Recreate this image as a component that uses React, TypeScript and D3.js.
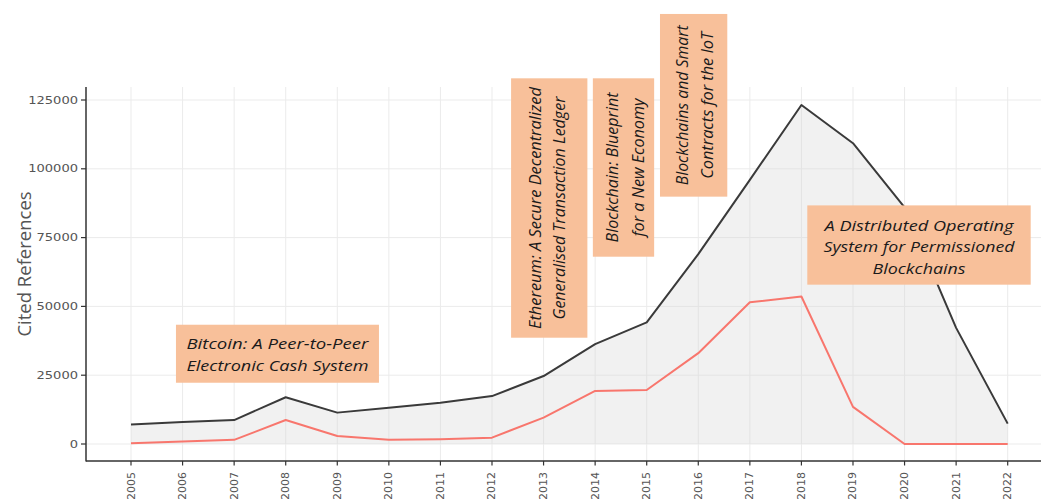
import React, { useEffect } from "react";
import * as d3 from "d3";

const YEARS = [2005, 2006, 2007, 2008, 2009, 2010, 2011, 2012, 2013, 2014, 2015, 2016, 2017, 2018, 2019, 2020, 2021, 2022];
const TOTAL_REFS = [7100, 8000, 8700, 17000, 11400, 13200, 15000, 17400, 24700, 36300, 44200, 69000, 96000, 123200, 109300, 86000, 42200, 7400];
const TOP_REFS = [300, 900, 1500, 8700, 2900, 1500, 1700, 2300, 9600, 19300, 19600, 33000, 51500, 53600, 13500, 0, 0, 0];
const Y_TICKS = [0, 25000, 50000, 75000, 100000, 125000];
const Y_TITLE = "Cited References";

const ANNOT_TEXT = [
  ["Bitcoin: A Peer-to-Peer", "Electronic Cash System"],
  ["Ethereum: A Secure Decentralized", "Generalised Transaction Ledger"],
  ["Blockchain: Blueprint", "for a New Economy"],
  ["Blockchains and Smart", "Contracts for the IoT"],
  ["A Distributed Operating", "System for Permissioned", "Blockchains"],
];
// anchor (centre of each label) in data space
const ANNOT_YEAR = [2007.84, 2013.11, 2014.55, 2015.91, 2020.28];
const ANNOT_VALUE = [32800, 85750, 100470, 123070, 72300];

// layout (pixels)
const ANNOT_LAYOUT = [
  { rot: false, w: 203, h: 58, off: [-10.5, 11.3], len: [182, 182] },
  { rot: true, w: 76.3, h: 259.4, off: [-14, 10], len: [242, 223] },
  { rot: true, w: 61.3, h: 178.4, off: [-11.5, 15], len: [150, 138] },
  { rot: true, w: 67.3, h: 182.7, off: [-12, 13], len: [160, 147] },
  { rot: false, w: 223.4, h: 79.3, off: [-20.5, 0.5, 22.5], len: [189, 191, 93] },
];

const W = 1041;
const H = 499;
const PANEL = { left: 86, right: 1041, top: 87, bottom: 461 };

export default function App() {
  useEffect(() => {
    document.body.style.margin = "0";
  }, []);

  const x = d3.scaleLinear().domain([2005, 2022]).range([131, 1007.7]);
  const y = d3.scaleLinear().domain([0, 125000]).range([444, 100]);

  const area = d3
    .area<number>()
    .x((_, i) => x(YEARS[i]))
    .y0(y(0))
    .y1((d) => y(d));
  const line = d3
    .line<number>()
    .x((_, i) => x(YEARS[i]))
    .y((d) => y(d));

  const tickFont = "'DejaVu Sans', Verdana, sans-serif";
  const annFont = "'Open Sans', sans-serif";

  return (
    <svg width={W} height={H} style={{ display: "block", background: "#fff" }}>
      {/* grid */}
      <g stroke="#ebebeb" strokeWidth={1}>
        {Y_TICKS.map((t) => (
          <line key={"h" + t} x1={PANEL.left} x2={PANEL.right} y1={y(t)} y2={y(t)} />
        ))}
        {YEARS.map((yr) => (
          <line key={"v" + yr} x1={x(yr)} x2={x(yr)} y1={PANEL.top} y2={PANEL.bottom} />
        ))}
      </g>

      {/* area */}
      <path d={area(TOTAL_REFS) || ""} fill="#d6d6d6" fillOpacity={0.35} />
      <path d={line(TOTAL_REFS) || ""} fill="none" stroke="#3a3a3a" strokeWidth={2} strokeLinejoin="round" />
      <path d={line(TOP_REFS) || ""} fill="none" stroke="#F8766D" strokeWidth={2} strokeLinejoin="round" />

      {/* annotations */}
      {ANNOT_TEXT.map((lines, i) => {
        const L = ANNOT_LAYOUT[i];
        const cx = x(ANNOT_YEAR[i]);
        const cy = y(ANNOT_VALUE[i]);
        return (
          <g key={"a" + i}>
            <rect x={cx - L.w / 2} y={cy - L.h / 2} width={L.w} height={L.h} fill="#F8C09A" />
            {lines.map((s, j) =>
              L.rot ? (
                <text
                  key={j}
                  transform={`translate(${cx + L.off[j]},${cy}) rotate(-90)`}
                  textAnchor="middle"
                  dominantBaseline="central"
                  fontFamily={annFont}
                  fontStyle="italic"
                  fontSize={15.5}
                  fill="#1a1a1a"
                  textLength={L.len[j]}
                  lengthAdjust="spacingAndGlyphs"
                >
                  {s}
                </text>
              ) : (
                <text
                  key={j}
                  x={cx}
                  y={cy + L.off[j]}
                  textAnchor="middle"
                  dominantBaseline="central"
                  fontFamily={annFont}
                  fontStyle="italic"
                  fontSize={15}
                  fill="#1a1a1a"
                  textLength={L.len[j]}
                  lengthAdjust="spacingAndGlyphs"
                >
                  {s}
                </text>
              )
            )}
          </g>
        );
      })}

      {/* axes */}
      <line x1={PANEL.left} x2={PANEL.left} y1={PANEL.top} y2={PANEL.bottom + 0.5} stroke="#333" strokeWidth={1.5} />
      <line x1={PANEL.left} x2={PANEL.right} y1={PANEL.bottom} y2={PANEL.bottom} stroke="#333" strokeWidth={1.5} />
      {Y_TICKS.map((t) => (
        <g key={"yt" + t}>
          <line x1={81} x2={PANEL.left} y1={y(t)} y2={y(t)} stroke="#333" strokeWidth={1.2} />
          <text
            x={78}
            y={y(t)}
            textAnchor="end"
            dominantBaseline="central"
            fontFamily={tickFont}
            fontSize={11}
            fill="#555"
            textLength={String(t).length * 8.3}
            lengthAdjust="spacingAndGlyphs"
          >
            {t}
          </text>
        </g>
      ))}
      {YEARS.map((yr) => (
        <g key={"xt" + yr}>
          <line x1={x(yr)} x2={x(yr)} y1={PANEL.bottom} y2={PANEL.bottom + 4.5} stroke="#333" strokeWidth={1.2} />
          <text
            transform={`translate(${x(yr)},${472}) rotate(-90)`}
            textAnchor="end"
            dominantBaseline="central"
            fontFamily={tickFont}
            fontSize={11}
            fill="#555"
          >
            {yr}
          </text>
        </g>
      ))}

      <text
        transform={`translate(23,264) rotate(-90)`}
        textAnchor="middle"
        dominantBaseline="central"
        fontFamily="'Open Sans', sans-serif"
        fontSize={18.5}
        fill="#555"
      >
        {Y_TITLE}
      </text>
    </svg>
  );
}
